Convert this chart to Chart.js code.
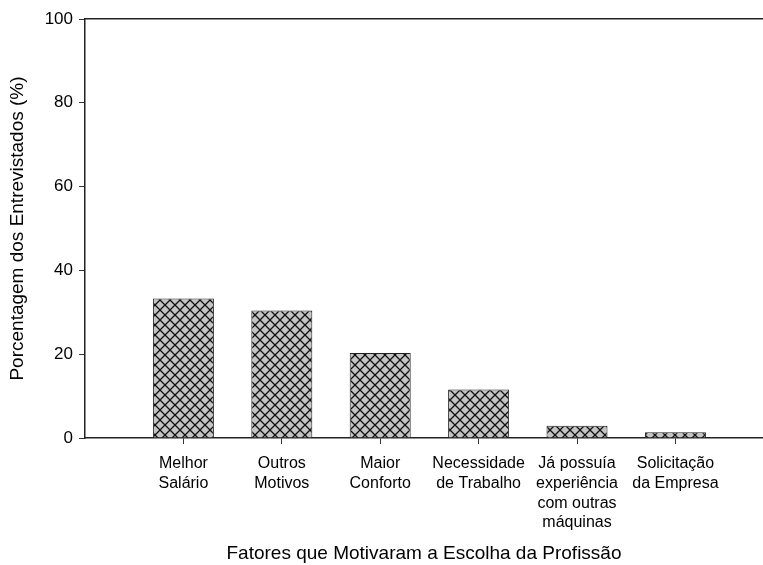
<!DOCTYPE html>
<html>
<head>
<meta charset="utf-8">
<script src="https://cdn.jsdelivr.net/npm/chart.js@4.4.1/dist/chart.umd.min.js"></script>
<style>
    html, body { margin: 0; padding: 0; background: #fff; }
    #wrap { width: 763px; height: 565px; }
</style>
</head>
<body>
<div id="wrap"><canvas id="motivos"></canvas></div>
<script>
// data (n = 69 respondents)
const categories = [
    ["Melhor", "Salário"],
    ["Outros", "Motivos"],
    ["Maior", "Conforto"],
    ["Necessidade", "de Trabalho"],
    ["Já possuía", "experiência", "com outras", "máquinas"],
    ["Solicitação", "da Empresa"],
];
const percentages = [33.3, 30.4, 20.3, 11.6, 2.9, 1.4];
const yTicks = [0, 20, 40, 60, 80, 100];

const FONT = "Arial, 'Liberation Sans', sans-serif";

// grey fill with black cross hatching
function crossHatch() {
    const c = document.createElement("canvas");
    c.width = 10;
    c.height = 10;
    const g = c.getContext("2d");
    g.fillStyle = "#c4c4c4";
    g.fillRect(0, 0, 10, 10);
    g.strokeStyle = "#111";
    g.lineWidth = 1.3;
    g.beginPath();
    g.moveTo(-1, -1);
    g.lineTo(11, 11);
    g.moveTo(11, -1);
    g.lineTo(-1, 11);
    g.stroke();
    return g.createPattern(c, "repeat");
}

const xMin = -1;
const xMax = 5.89;

new Chart(document.getElementById("motivos"), {
    type: "bar",
    data: {
        datasets: [
            {
                data: percentages.map((v, i) => ({ x: i, y: v })),
                backgroundColor: crossHatch(),
                borderColor: "#222",
                borderWidth: 1,
                categoryPercentage: 1,
                barPercentage: 0.62,
            },
        ],
    },
    options: {
        responsive: true,
        maintainAspectRatio: false,
        animation: false,
        layout: {
            padding: { top: 19, right: 0, bottom: 0, left: 0 },
        },
        plugins: {
            legend: { display: false },
            tooltip: { enabled: false },
        },
        scales: {
            x: {
                type: "linear",
                position: "bottom",
                offset: false,
                min: xMin,
                max: xMax,
                afterBuildTicks: (axis) => {
                    axis.ticks = categories.map((c, i) => ({ value: i }));
                },
                afterFit: (scale) => {
                    scale.height = 127;
                },
                ticks: {
                    callback: (v) => categories[v] || "",
                    color: "#000",
                    font: { family: FONT, size: 16, lineHeight: 1.23 },
                    padding: 10,
                    maxRotation: 0,
                    autoSkip: false,
                },
                grid: {
                    offset: false,
                    drawOnChartArea: false,
                    drawTicks: true,
                    tickLength: 6,
                    color: "#333",
                },
                border: { color: "#222", width: 1.5 },
                title: {
                    display: true,
                    text: "Fatores que Motivaram a Escolha da Profissão",
                    color: "#000",
                    font: { family: FONT, size: 19 },
                    padding: { top: 0, bottom: 0 },
                },
            },
            x2: {
                type: "linear",
                position: "top",
                display: true,
                offset: false,
                min: xMin,
                max: xMax,
                afterFit: (scale) => {
                    scale.height = 0;
                },
                ticks: { display: false },
                grid: { offset: false, drawOnChartArea: false, drawTicks: false },
                border: { color: "#222", width: 1.5 },
            },
            y: {
                min: 0,
                max: 100,
                afterBuildTicks: (axis) => {
                    axis.ticks = yTicks.map((v) => ({ value: v }));
                },
                afterFit: (scale) => {
                    scale.width = 85;
                },
                ticks: {
                    color: "#000",
                    font: { family: FONT, size: 17 },
                    padding: 6,
                },
                grid: {
                    drawOnChartArea: false,
                    drawTicks: true,
                    tickLength: 6,
                    color: "#333",
                },
                border: { color: "#222", width: 1.5 },
                title: {
                    display: true,
                    text: "Porcentagem dos Entrevistados (%)",
                    color: "#000",
                    font: { family: FONT, size: 19 },
                    padding: { top: 6, bottom: 0 },
                },
            },
        },
    },
});
</script>
</body>
</html>
